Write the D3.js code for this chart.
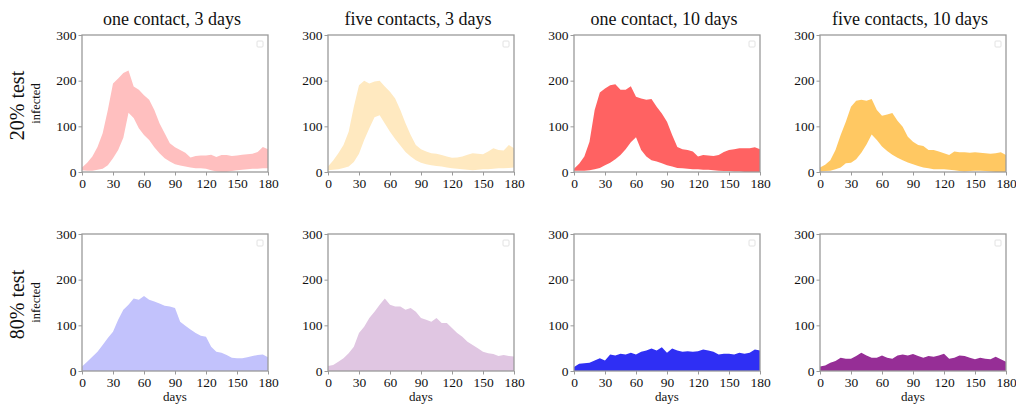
<!DOCTYPE html>
<html>
<head>
<meta charset="utf-8">
<script src="https://cdn.jsdelivr.net/npm/d3@7"></script>
<style>
  html, body { margin: 0; padding: 0; background: #fff; }
  svg { display: block; }
</style>
</head>
<body>
<svg id="chart" width="1016" height="406"></svg>
<script>
// Sampling days (every 5 days over the 180-day simulation)
const days = [0,5,10,15,20,25,30,35,40,45,50,55,60,65,70,75,80,85,90,95,100,105,110,115,120,125,130,135,140,145,150,155,160,165,170,175,180];

const colTitles = ["one contact, 3 days", "five contacts, 3 days", "one contact, 10 days", "five contacts, 10 days"];
const rowTitles = ["20% test", "80% test"];
const yTicks = [0, 100, 200, 300];
const xTicks = [0, 30, 60, 90, 120, 150, 180];

// 20% testing: upper / lower envelope of infected count
const oneContact3Upper  = [10,20,34,55,85,136,194,205,217,222,187,180,168,158,136,107,85,63,54,48,42,32,35,36,36,38,33,37,37,35,36,38,39,40,44,55,50];
const oneContact3Lower  = [4,3,3,5,7,15,30,48,75,130,118,96,81,70,54,41,30,23,17,14,12,10,8,8,7,4,1,0,0,2,4,5,6,7,7,8,8];
const fiveContact3Upper = [12,25,41,59,88,143,190,200,194,198,200,187,176,161,136,107,81,59,50,45,41,40,37,34,31,32,34,38,41,40,39,45,52,48,47,59,52];
const fiveContact3Lower = [4,5,6,9,12,22,40,70,96,120,124,106,88,72,58,44,34,26,20,17,15,13,12,10,8,7,6,5,4,5,6,6,7,8,8,9,10];
const oneContact10Upper = [7,18,34,66,136,174,183,190,192,180,180,188,165,161,158,160,143,128,110,81,55,50,48,45,34,37,36,35,37,44,48,50,52,52,52,54,50];
const oneContact10Lower = [3,3,3,4,6,9,15,20,28,37,50,65,76,48,34,26,23,19,15,12,9,8,7,6,6,5,5,4,3,2,2,1,1,0,0,0,0];
const fiveContact10Upper= [10,16,26,48,81,110,143,156,158,156,160,136,123,126,129,112,99,77,66,59,57,48,48,45,41,37,45,43,43,42,43,42,41,40,41,43,37];
const fiveContact10Lower= [1,2,3,6,10,19,20,28,42,60,82,70,56,46,38,31,26,21,17,13,10,8,6,6,6,5,4,2,1,2,3,3,2,1,0,0,0];

// 80% testing: infected count
const oneContact3High   = [10,20,31,42,57,72,86,112,134,145,159,156,164,156,152,148,143,141,138,108,99,91,83,77,75,53,42,40,35,29,28,28,30,33,35,36,30];
const fiveContact3High  = [11,13,20,28,39,53,83,97,116,130,145,159,145,141,141,134,138,130,116,112,108,116,105,105,94,83,75,64,57,50,42,39,37,33,35,33,32];
const oneContact10High  = [9,16,17,18,23,28,23,36,34,38,36,40,36,42,45,49,45,52,40,49,45,42,43,42,43,47,45,42,36,38,38,36,40,38,40,47,45];
const fiveContact10High = [10,12,18,22,29,27,27,33,40,34,29,29,34,29,27,34,36,34,37,33,29,33,31,34,38,27,29,34,33,29,26,29,27,26,31,26,20];

const panels = [
  { row: 0, col: 0, upper: oneContact3Upper,   lower: oneContact3Lower,   color: "#ffbfbf" },
  { row: 0, col: 1, upper: fiveContact3Upper,  lower: fiveContact3Lower,  color: "#ffe9c0" },
  { row: 0, col: 2, upper: oneContact10Upper,  lower: oneContact10Lower,  color: "#ff6262" },
  { row: 0, col: 3, upper: fiveContact10Upper, lower: fiveContact10Lower, color: "#ffc862" },
  { row: 1, col: 0, upper: oneContact3High,   lower: null, color: "#c2c2fc" },
  { row: 1, col: 1, upper: fiveContact3High,  lower: null, color: "#e0c6e2" },
  { row: 1, col: 2, upper: oneContact10High,  lower: null, color: "#2f2ff4" },
  { row: 1, col: 3, upper: fiveContact10High, lower: null, color: "#962e96" }
];

const serif = "Liberation Serif";
const svg = d3.select("#chart");
const panelLeft = [82, 328, 574, 820];
const panelTop = [35, 234];
const pw = 186, ph = 137;

const x = d3.scaleLinear().domain([0, 180]).range([0, pw]);
const y = d3.scaleLinear().domain([0, 300]).range([ph, 0]);

function label(sel, size) {
  return sel.attr("font-family", serif).attr("font-size", size).attr("fill", "#111");
}

panels.forEach(p => {
  const g = svg.append("g")
    .attr("transform", `translate(${panelLeft[p.col]},${panelTop[p.row]})`);

  const area = d3.area()
    .x((d, i) => x(days[i]))
    .y0((d, i) => p.lower ? y(p.lower[i]) : y(0))
    .y1(d => y(d));

  g.append("path")
    .datum(p.upper)
    .attr("d", area)
    .attr("fill", p.color);

  // frame
  g.append("rect")
    .attr("x", 0).attr("y", 0).attr("width", pw).attr("height", ph)
    .attr("fill", "none").attr("stroke", "#9a9a9a").attr("stroke-width", 1.3);

  // empty legend box
  g.append("rect")
    .attr("x", pw - 11).attr("y", 6).attr("width", 6).attr("height", 6)
    .attr("rx", 1)
    .attr("fill", "#fff").attr("stroke", "#e2e2e2").attr("stroke-width", 1);

  const ya = g.append("g")
    .call(d3.axisLeft(y).tickValues(yTicks).tickSize(3.5).tickPadding(2));
  const xa = g.append("g")
    .attr("transform", `translate(0,${ph})`)
    .call(d3.axisBottom(x).tickValues(xTicks).tickSize(3.5).tickPadding(3));
  [ya, xa].forEach(a => {
    a.attr("font-family", serif).attr("font-size", 13.5);
    a.select(".domain").remove();
    a.selectAll(".tick line").attr("stroke", "#9a9a9a");
    a.selectAll(".tick text").attr("fill", "#111");
  });

  if (p.row === 0) {
    label(g.append("text"), 18)
      .attr("x", pw / 2 - 3).attr("y", -10)
      .attr("text-anchor", "middle")
      .text(colTitles[p.col]);
  }
  if (p.row === 1) {
    label(g.append("text"), 13)
      .attr("x", pw / 2).attr("y", ph + 30)
      .attr("text-anchor", "middle")
      .text("days");
  }
  if (p.col === 0) {
    label(g.append("text"), 12.5)
      .attr("transform", `translate(-42,${ph / 2}) rotate(-90)`)
      .attr("text-anchor", "middle")
      .text("infected");
    label(g.append("text"), 20)
      .attr("transform", `translate(-58,${ph / 2 + 2}) rotate(-90)`)
      .attr("text-anchor", "middle")
      .text(rowTitles[p.row]);
  }
});
</script>
</body>
</html>
